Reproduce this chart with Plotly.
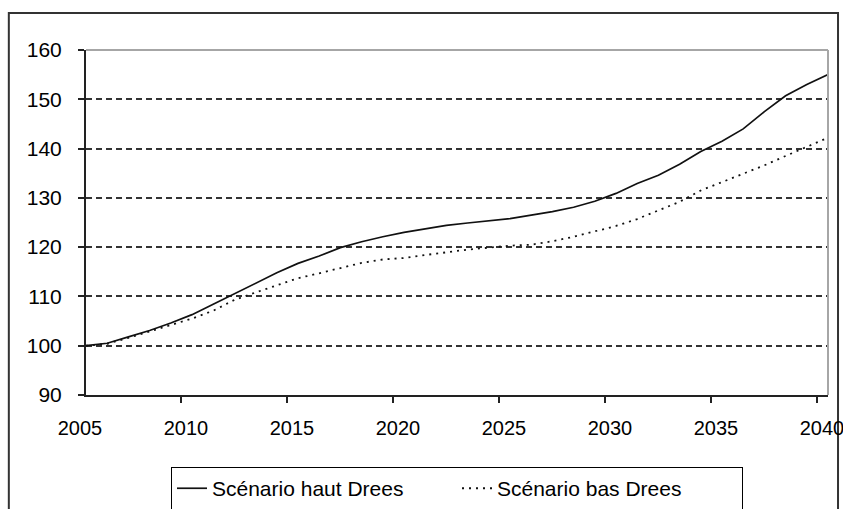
import plotly.graph_objects as go

# Index values (base 100 in 2005)
years = [str(y) for y in range(2005, 2041)]
haut_drees = [100.0, 100.5, 101.8, 103.1, 104.6, 106.3, 108.4, 110.5, 112.7, 114.8,
              116.7, 118.2, 119.9, 121.1, 122.1, 123.0, 123.7, 124.4, 124.9, 125.4,
              125.8, 126.5, 127.2, 128.1, 129.3, 130.9, 132.9, 134.6, 136.8, 139.4,
              141.5, 144.0, 147.5, 150.7, 153.0, 155.0]
bas_drees = [100.0, 100.4, 101.6, 102.9, 104.3, 105.5, 107.1, 109.3, 110.8, 112.3,
             113.7, 114.7, 115.8, 116.8, 117.5, 117.8, 118.4, 119.0, 119.5, 119.9,
             120.3, 120.5, 121.2, 122.1, 123.2, 124.3, 125.7, 127.4, 129.2, 131.5,
             133.2, 134.9, 136.6, 138.5, 140.4, 142.2]
x_ticks = years[::5]
y_ticks = [90, 100, 110, 120, 130, 140, 150, 160]

FONT = "Liberation Sans, Arial, sans-serif"

fig = go.Figure()

fig.add_trace(go.Scatter(
    x=years, y=haut_drees,
    mode='lines',
    name='Scénario haut Drees',
    line=dict(color='#111111', width=1.7),
))

fig.add_trace(go.Scatter(
    x=years, y=bas_drees,
    mode='lines',
    name='Scénario bas Drees',
    line=dict(color='#111111', width=1.8, dash='2px,5px'),
))

# plot area: light grey top / right edges
fig.add_shape(type='line', xref='x domain', yref='y domain',
              x0=0, x1=1, y0=1, y1=1, line=dict(color='#a6a6a6', width=2), layer='above')
fig.add_shape(type='line', xref='x domain', yref='y domain',
              x0=1, x1=1, y0=0, y1=1, line=dict(color='#a6a6a6', width=2), layer='above')

# outer chart frame
fig.add_shape(type='rect', xref='paper', yref='paper',
              x0=-0.104, x1=1.0135, y0=-0.4, y1=1.107,
              line=dict(color='#333333', width=2), fillcolor='rgba(0,0,0,0)', layer='below')

fig.update_layout(
    width=843, height=509,
    margin=dict(l=86, r=15, t=50, b=114, autoexpand=False),
    paper_bgcolor='white',
    plot_bgcolor='white',
    font=dict(family=FONT, size=21, color='black'),
    showlegend=True,
    legend=dict(
        orientation='h',
        x=0.5, xanchor='center',
        y=-0.209, yanchor='top',
        bordercolor='black', borderwidth=1,
        bgcolor='white',
        entrywidth=240,
        font=dict(family=FONT, size=21, color='black'),
        itemclick=False,
    ),
    xaxis=dict(
        type='category',
        tickmode='array',
        tickvals=x_ticks,
        ticktext=x_ticks,
        tickson='boundaries',
        tickangle=0,
        tickfont=dict(size=20),
        ticklabelshift=-6,
        automargin=False,
        ticks='outside', ticklen=6, tickwidth=2, tickcolor='#222222',
        ticklabelstandoff=14,
        showline=True, linecolor='#222222', linewidth=2,
        showgrid=False, zeroline=False,
        fixedrange=True,
    ),
    yaxis=dict(
        range=[90, 160],
        tickmode='array',
        tickvals=y_ticks,
        automargin=False,
        ticks='outside', ticklen=6, tickwidth=2, tickcolor='#222222',
        ticklabelstandoff=12,
        showline=True, linecolor='#222222', linewidth=2,
        showgrid=True, gridcolor='#333333', gridwidth=1.6, griddash='6px,4px',
        zeroline=False,
        fixedrange=True,
    ),
)

# drop the default page margin so the 843x509 figure fills the window exactly
fig.write_html(
    "out.html",
    config={'displayModeBar': False},
    post_script="document.body.style.margin='0';document.body.style.overflow='hidden';",
)
